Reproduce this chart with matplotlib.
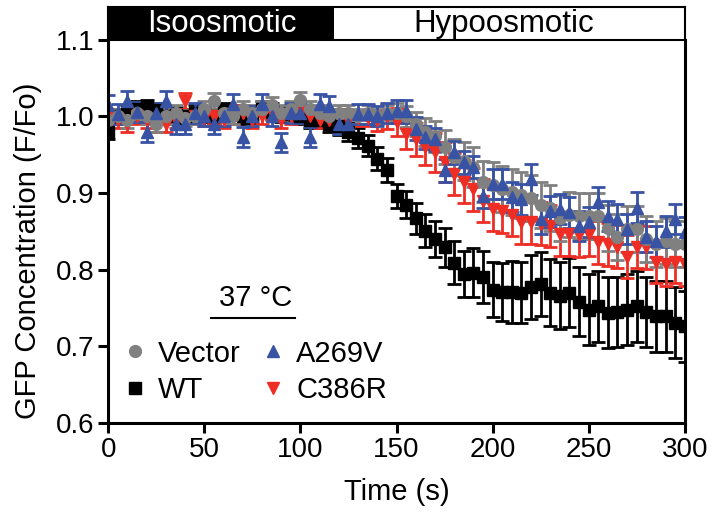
import numpy as np
import matplotlib
matplotlib.use("Agg")
import matplotlib.pyplot as plt
import matplotlib.patches as patches

plt.rcParams['font.family'] = ['Liberation Sans', 'DejaVu Sans']

# time points (s)
time = np.arange(0, 301, 5)

wt = [0.980, 1.000, 1.005, 1.010, 1.012, 1.008, 1.000, 1.002, 1.000, 1.005,
      1.003, 1.000, 1.008, 1.005, 1.000, 1.002, 1.010, 1.007, 1.003, 1.005,
      1.000, 0.995, 0.995, 0.990, 0.988, 0.980, 0.972, 0.962, 0.945, 0.930,
      0.896, 0.885, 0.867, 0.851, 0.840, 0.829, 0.809, 0.794, 0.796, 0.791,
      0.774, 0.771, 0.771, 0.770, 0.777, 0.781, 0.770, 0.766, 0.770, 0.758,
      0.748, 0.752, 0.744, 0.745, 0.748, 0.752, 0.745, 0.739, 0.739, 0.731,
      0.726]
wt_err = [0.010] * 24 + [0.012, 0.012, 0.013, 0.014, 0.015, 0.016,
          0.016, 0.018, 0.020, 0.022, 0.024, 0.026, 0.028, 0.030, 0.032, 0.034,
          0.036, 0.038, 0.040, 0.040, 0.042, 0.042, 0.044, 0.044, 0.045, 0.045]
wt_err += [0.046] * 11

vector = [0.995, 1.000, 0.995, 1.005, 1.000, 0.990, 1.000, 1.005, 0.998, 1.000,
          1.010, 1.020, 1.005, 1.000, 1.010, 1.005, 1.010, 1.015, 1.005, 1.010,
          1.022, 1.010, 1.005, 1.000, 1.005, 1.005, 1.000, 1.005, 1.000, 1.005,
          1.005, 1.000, 0.990, 0.980, 0.974, 0.960, 0.947, 0.942, 0.934, 0.915,
          0.910, 0.905, 0.902, 0.898, 0.894, 0.885, 0.881, 0.868, 0.872, 0.870,
          0.870, 0.870, 0.855, 0.843, 0.853, 0.853, 0.840, 0.833, 0.837, 0.833,
          0.833]
vector_err = [0.010] * 30 + [0.012, 0.014, 0.016, 0.018, 0.020, 0.022,
              0.024, 0.025, 0.026, 0.027] + [0.030] * 21

a269v = [1.015, 1.003, 1.020, 1.006, 0.980, 1.005, 1.020, 0.990, 0.990, 1.005,
         1.000, 0.990, 1.000, 1.016, 0.973, 1.000, 1.016, 1.000, 0.966, 1.005,
         1.005, 0.973, 1.016, 1.014, 0.990, 0.990, 1.003, 1.003, 1.000, 1.005,
         1.007, 1.007, 0.984, 0.973, 0.970, 0.930, 0.953, 0.940, 0.934, 0.896,
         0.912, 0.912, 0.895, 0.892, 0.918, 0.866, 0.876, 0.879, 0.875, 0.857,
         0.862, 0.888, 0.870, 0.866, 0.853, 0.881, 0.843, 0.837, 0.850, 0.866,
         0.849]
a269v_err = [0.013] * 30 + [0.015] * 10 + [0.020] * 21

c386r = [1.000, 0.995, 0.990, 1.000, 0.995, 0.990, 0.990, 0.995, 1.020, 1.000,
         0.998, 1.000, 0.995, 1.000, 1.005, 0.995, 1.000, 1.005, 0.995, 1.000,
         1.005, 1.000, 0.995, 0.995, 1.000, 0.995, 0.998, 0.998, 0.995, 1.000,
         0.993, 0.977, 0.970, 0.960, 0.953, 0.940, 0.925, 0.915, 0.905, 0.890,
         0.879, 0.876, 0.872, 0.862, 0.862, 0.860, 0.857, 0.846, 0.846, 0.845,
         0.846, 0.836, 0.833, 0.830, 0.817, 0.830, 0.829, 0.810, 0.807, 0.810,
         0.807]
c386r_err = [0.010] * 28 + [0.014, 0.016, 0.018, 0.020, 0.022, 0.024, 0.025,
             0.026, 0.027] + [0.028] * 24

series = [
    ("WT", wt, wt_err, "s", "#000000"),
    ("C386R", c386r, c386r_err, "v", "#ee2e24"),
    ("Vector", vector, vector_err, "o", "#808080"),
    ("A269V", a269v, a269v_err, "^", "#3853a4"),
]

fig = plt.figure(figsize=(7.17, 5.17), dpi=100)
ax = fig.add_axes([0.151, 0.182, 0.804, 0.741])

handles = {}
for name, vals, errs, mk, col in series:
    h = ax.errorbar(time, vals, yerr=errs, fmt=mk, color=col, ecolor=col,
                    markersize=8.5, capsize=5, elinewidth=2, capthick=2,
                    label=name)
    handles[name] = h

ax.set_xlim(0, 300)
ax.set_ylim(0.6, 1.1)
ax.set_xticks([0, 50, 100, 150, 200, 250, 300])
ax.set_yticks([0.6, 0.7, 0.8, 0.9, 1.0, 1.1])
ax.set_yticklabels(["0.6", "0.7", "0.8", "0.9", "1.0", "1.1"])
for s in ax.spines.values():
    s.set_linewidth(2.2)
ax.spines["top"].set_visible(False)
ax.tick_params(width=2.2, length=7, labelsize=20, pad=3)
ax.set_xlabel("Time (s)", fontsize=21, labelpad=11)
ax.set_ylabel("GFP Concentration (F/Fo)", fontsize=21)
ax.yaxis.set_label_coords(-0.115, 0.45)

order = ["Vector", "WT", "A269V", "C386R"]
leg = ax.legend([handles[n][0] for n in order], order, ncol=2, frameon=False,
                loc="lower left", bbox_to_anchor=(-0.02, -0.005), fontsize=21,
                handletextpad=0.2, columnspacing=0.5, labelspacing=0.3,
                handlelength=1.2, borderaxespad=0.3)

ax.text(0.255, 0.326, "37 °C", transform=ax.transAxes, fontsize=21,
        ha="center", va="center")
ax.plot([0.179, 0.324], [0.274, 0.274], transform=ax.transAxes,
        color="black", lw=1.5)

# condition bar above the plot
bar = fig.add_axes([0.151, 0.923, 0.804, 0.064])
bar.set_xlim(0, 300)
bar.set_ylim(0, 1)
bar.add_patch(patches.Rectangle((0, 0), 117.5, 1, color="black"))
bar.add_patch(patches.Rectangle((117.5, 0), 182.5, 1, facecolor="white",
                                edgecolor="none"))
bar.text(59, 0.47, "Isoosmotic", color="white", fontsize=22.5,
         ha="center", va="center")
bar.text(206, 0.47, "Hypoosmotic", color="black", fontsize=22.5,
         ha="center", va="center")
bar.set_xticks([])
bar.set_yticks([])
for s in bar.spines.values():
    s.set_linewidth(1.5)

fig.savefig("out.png", dpi=100)
